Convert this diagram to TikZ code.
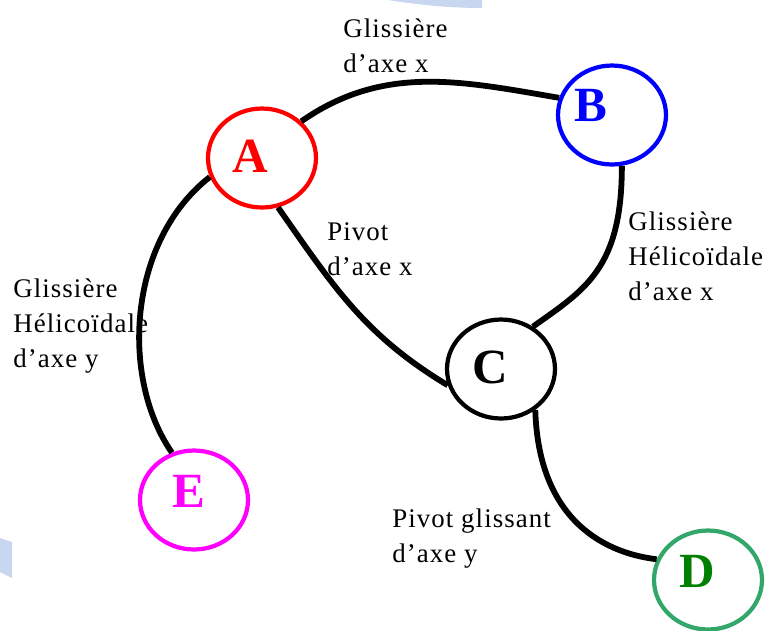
\documentclass[tikz,border=0pt]{standalone}
\usepackage{fontspec}
\setmainfont{Liberation Serif}
\newfontfamily\lblfont[LetterSpace=4]{Liberation Serif}
\usetikzlibrary{shapes.geometric}
\definecolor{bgblue}{RGB}{200,214,240}
\definecolor{ringgreen}{RGB}{51,166,106}
\definecolor{lettergreen}{RGB}{0,128,0}
\definecolor{jointmagenta}{RGB}{255,0,255}
\definecolor{jointred}{RGB}{255,0,0}
\definecolor{jointblue}{RGB}{0,0,255}

\begin{document}
\begin{tikzpicture}[x=0.02cm, y=-0.02cm,
    joint/.style={draw, ellipse, line width=2.4pt, minimum width=2.16cm,
      minimum height=1.98cm, inner sep=0pt},
    letter/.style={font=\fontsize{28}{28}\selectfont\bfseries},
    link/.style={line width=3.3pt},
    liaison/.style={anchor=base west, inner sep=0pt, align=left,
      font=\lblfont\fontsize{15.3}{19.8}\selectfont}]
  \useasboundingbox (0,0) rectangle (784,630);
  % Light blue background pieces
  \fill[bgblue] (388,0) .. controls (420,5) and (450,8) .. (482,8) -- (482,0) -- cycle;
  \fill[bgblue] (0,538) -- (12,542) -- (12,578) -- (0,572) -- cycle;
  % Place the classes
  \node[joint, jointred, label={[letter, jointred, xshift=-0.24cm, yshift=0.04cm]center:A}] (A) at (262,158) {};
  \node[joint, jointblue, label={[letter, jointblue, xshift=-0.42cm, yshift=0.2cm]center:B}] (B) at (612,115) {};
  \node[joint, black, label={[letter, xshift=-0.22cm, yshift=0.04cm]center:C}] (C) at (501,369) {};
  \node[joint, ringgreen, label={[letter, lettergreen, xshift=-0.22cm, yshift=0.18cm]center:D}] (D) at (708,580) {};
  \node[joint, jointmagenta, label={[letter, jointmagenta, xshift=-0.1cm, yshift=0.18cm]center:E}] (E) at (194,500) {};
  % Place the joint names (anchored on the last line)
  \node[liaison] (lAB) at (343,72) {Glissière\\d’axe x};
  \node[liaison] (lAC) at (327,275) {Pivot\\d’axe x};
  \node[liaison] (lBC) at (628,300) {Glissière\\Hélicoïdale\\d’axe x};
  \node[liaison] (lAE) at (13,367) {Glissière\\Hélicoïdale\\d’axe y};
  \node[liaison] (lCD) at (392,562) {Pivot glissant\\d’axe y};
  % Draw the links
  \draw[link] (A.43) .. controls +(82,-57) and +(-99,-17) .. (B.162);
  \draw[link] (A.-72) .. controls +(56,80) and +(-83,-50) .. (C.197);
  \draw[link] (B.-79) .. controls +(0,103) and +(52,-37) .. (C.53);
  \draw[link] (C.-50) .. controls +(3,105) and +(-58,-7) .. (D.158);
  \draw[link] (A.200) .. controls +(-82,64) and +(-52,-75) .. (E.115);
\end{tikzpicture}
\end{document}
